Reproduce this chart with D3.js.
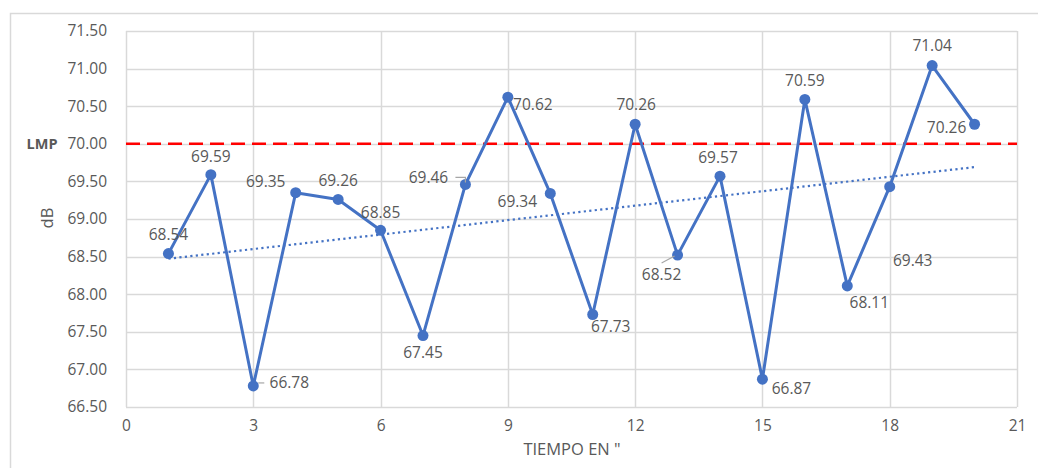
<!DOCTYPE html>
<html>
<head>
<meta charset="utf-8">
<script src="https://cdn.jsdelivr.net/npm/d3@7"></script>
<style>
  html, body { margin: 0; padding: 0; background: #fff; }
  svg { display: block; }
  text { font-family: "Open Sans", "Liberation Sans", sans-serif; fill: #595959; }
</style>
</head>
<body>
<svg id="chart" width="1038" height="468"></svg>
<script>
// Sound level readings (dB) over time
const times = [1, 2, 3, 4, 5, 6, 7, 8, 9, 10, 11, 12, 13, 14, 15, 16, 17, 18, 19, 20];
const levels = [68.54, 69.59, 66.78, 69.35, 69.26, 68.85, 67.45, 69.46, 70.62, 69.34,
                67.73, 70.26, 68.52, 69.57, 66.87, 70.59, 68.11, 69.43, 71.04, 70.26];
const limitValue = 70.00;
const limitLabel = "LMP";
const xTicks = [0, 3, 6, 9, 12, 15, 18, 21];
const yTicks = [66.5, 67, 67.5, 68, 68.5, 69, 69.5, 70, 70.5, 71, 71.5];
const xTitle = "TIEMPO EN \"";
const yTitle = "dB";

// Data label placement (offset of label centre from its point, in px)
const labelOffsets = [
  [0, -19], [0, -18], [36, -3], [-30, -11], [0, -19], [0, -18], [0, 17], [-37, -7],
  [25, 7], [-33, 8], [18, 12], [1, -20], [-16, 19], [-2, -19], [29, 9], [0, -19],
  [22, 17], [23, 74], [0, -20], [-28, 3]
];

const svg = d3.select("#chart");
const m = { left: 126, right: 1017, top: 31, bottom: 407 };

const x = d3.scaleLinear().domain([0, 21]).range([m.left, m.right]);
const y = d3.scaleLinear().domain([66.5, 71.5]).range([m.bottom, m.top]);

// Outer chart frame
svg.append("rect")
  .attr("x", 10.5).attr("y", 13.5).attr("width", 1040).attr("height", 470)
  .attr("fill", "none").attr("stroke", "#d9d9d9").attr("stroke-width", 1.5);

// Gridlines
const grid = svg.append("g");
grid.selectAll("line.h").data(yTicks).join("line")
  .attr("x1", m.left).attr("x2", m.right)
  .attr("y1", d => Math.round(y(d)) + 0.5).attr("y2", d => Math.round(y(d)) + 0.5)
  .attr("stroke", "#d9d9d9").attr("stroke-width", 1.5);
grid.selectAll("line.v").data(xTicks).join("line")
  .attr("y1", m.top).attr("y2", m.bottom)
  .attr("x1", d => Math.round(x(d)) + 0.5).attr("x2", d => Math.round(x(d)) + 0.5)
  .attr("stroke", "#d9d9d9").attr("stroke-width", 1.5);

// Axes
const yAxis = svg.append("g")
  .attr("transform", `translate(${m.left - 16},0)`)
  .call(d3.axisLeft(y).tickValues(yTicks).tickFormat(d3.format(".2f")).tickSize(0));
yAxis.select(".domain").remove();
yAxis.selectAll("text").attr("font-size", 15.5).attr("fill", "#595959")
  .style("font-family", "'Open Sans', sans-serif");

const xAxis = svg.append("g")
  .attr("transform", `translate(0,${m.bottom + 10})`)
  .call(d3.axisBottom(x).tickValues(xTicks).tickFormat(d3.format("d")).tickSize(0));
xAxis.select(".domain").remove();
xAxis.selectAll("text").attr("font-size", 15.5).attr("fill", "#595959")
  .style("font-family", "'Open Sans', sans-serif");

// Axis titles
svg.append("text").attr("x", 572).attr("y", 455)
  .attr("text-anchor", "middle").attr("font-size", 16.5).text(xTitle);
svg.append("text")
  .attr("transform", `translate(53,218) rotate(-90)`)
  .attr("text-anchor", "middle").attr("font-size", 16.5).text(yTitle);

// Limit line
svg.append("line")
  .attr("x1", m.left).attr("x2", m.right)
  .attr("y1", y(limitValue)).attr("y2", y(limitValue))
  .attr("stroke", "#ff0000").attr("stroke-width", 2.5)
  .attr("stroke-dasharray", "14,7");
svg.append("text").attr("x", 42).attr("y", y(limitValue)).attr("dy", "0.35em")
  .attr("text-anchor", "middle").attr("font-size", 14.5).attr("font-weight", "bold")
  .text(limitLabel);

// Linear trend (least squares)
const mx = d3.mean(times), my = d3.mean(levels);
const slope = d3.sum(times, (t, i) => (t - mx) * (levels[i] - my)) / d3.sum(times, t => (t - mx) ** 2);
const intercept = my - slope * mx;
const tEnds = d3.extent(times);
svg.append("line")
  .attr("x1", x(tEnds[0])).attr("y1", y(intercept + slope * tEnds[0]))
  .attr("x2", x(tEnds[1])).attr("y2", y(intercept + slope * tEnds[1]))
  .attr("stroke", "#4472c4").attr("stroke-width", 2.2)
  .attr("stroke-dasharray", "2.2,3.3");

// Series line and markers
const pts = times.map((t, i) => ({ t, v: levels[i], off: labelOffsets[i] }));
svg.append("path").datum(pts)
  .attr("fill", "none").attr("stroke", "#4472c4").attr("stroke-width", 3)
  .attr("stroke-linejoin", "round")
  .attr("d", d3.line().x(d => x(d.t)).y(d => y(d.v)));
svg.selectAll("circle.pt").data(pts).join("circle")
  .attr("cx", d => x(d.t)).attr("cy", d => y(d.v)).attr("r", 5.5)
  .attr("fill", "#4472c4");

// Leader lines for displaced labels
const leader = svg.append("g").attr("stroke", "#a6a6a6").attr("stroke-width", 1.2).attr("fill", "none");
{
  const p3 = pts[2];
  leader.append("path").attr("d", `M${x(p3.t) + 5},${y(p3.v) - 3}H${x(p3.t) + 11}`);
  const p8 = pts[7];
  leader.append("path").attr("d", `M${x(p8.t) - 10},${y(p8.v) - 7}H${x(p8.t)}V${y(p8.v) - 2}`);
  const p13 = pts[12];
  leader.append("path").attr("d", `M${x(p13.t) - 16},${y(p13.v) + 8}L${x(p13.t) - 3},${y(p13.v) + 1}`);
}

// Data labels
svg.selectAll("text.lbl").data(pts).join("text")
  .attr("class", "lbl")
  .attr("x", d => x(d.t) + d.off[0]).attr("y", d => y(d.v) + d.off[1])
  .attr("dy", "0.35em").attr("text-anchor", "middle").attr("font-size", 15.5)
  .text(d => d3.format(".2f")(d.v));
</script>
</body>
</html>
